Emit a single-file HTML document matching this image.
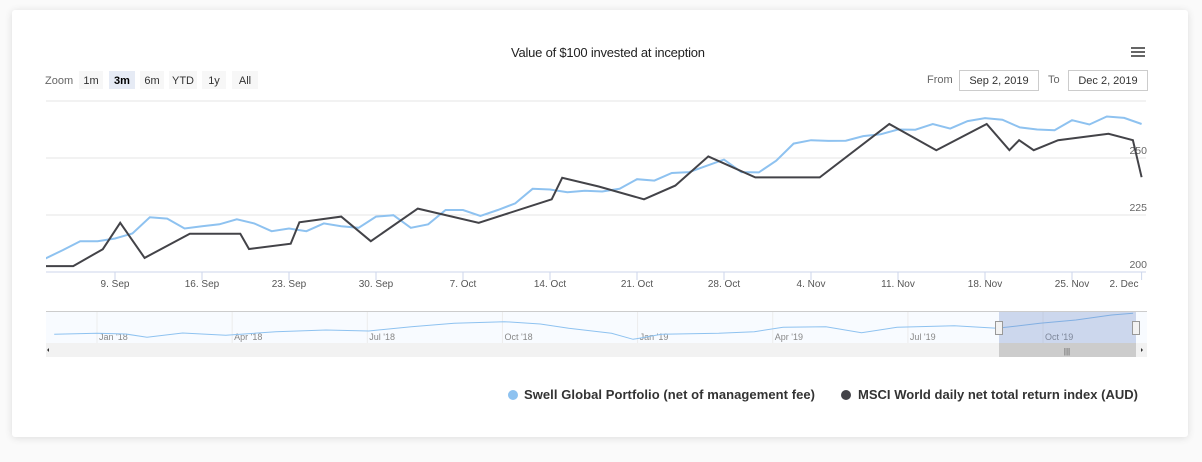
<!DOCTYPE html>
<html><head><meta charset="utf-8"><style>
body{margin:0;width:1202px;height:462px;background:#fafafa;font-family:"Liberation Sans",sans-serif;overflow:hidden;position:relative}
.card{position:absolute;left:12px;top:10px;width:1176px;height:427px;background:#fff;box-shadow:0 1px 8px rgba(0,0,0,.12);border-radius:3px}
svg{position:absolute;left:0;top:0}
text{font-family:"Liberation Sans",sans-serif}
</style></head><body>
<div class="card"></div>
<svg id="s" width="1202" height="462">
<text x="608" y="57" text-anchor="middle" font-size="13" fill="#222" textLength="194">Value of $100 invested at inception</text>
<g><rect x="1131" y="47" width="14" height="2" fill="#666"/><rect x="1131" y="51" width="14" height="2" fill="#666"/><rect x="1131" y="55" width="14" height="2" fill="#666"/></g>
<text x="45" y="84" font-size="11" fill="#666">Zoom</text>
<g font-size="11" fill="#333">
<g><rect x="79" y="71" width="24" height="18" fill="#f7f7f7"/><text x="91" y="84" text-anchor="middle">1m</text></g>
<g><rect x="109" y="71" width="26" height="18" fill="#e6ebf5"/><text x="122" y="84" text-anchor="middle" font-weight="bold" fill="#000">3m</text></g>
<g><rect x="140" y="71" width="24" height="18" fill="#f7f7f7"/><text x="152" y="84" text-anchor="middle">6m</text></g>
<g><rect x="169" y="71" width="28" height="18" fill="#f7f7f7"/><text x="183" y="84" text-anchor="middle">YTD</text></g>
<g><rect x="202" y="71" width="24" height="18" fill="#f7f7f7"/><text x="214" y="84" text-anchor="middle">1y</text></g>
<g><rect x="232" y="71" width="26" height="18" fill="#f7f7f7"/><text x="245" y="84" text-anchor="middle">All</text></g>
</g>
<text x="927" y="83" font-size="11" fill="#666">From</text>
<g><rect x="959.5" y="70.5" width="79" height="20" fill="#fff" stroke="#ccc"/><text x="999" y="84" text-anchor="middle" font-size="11" fill="#333">Sep 2, 2019</text></g>
<text x="1048" y="83" font-size="11" fill="#666">To</text>
<g><rect x="1068.5" y="70.5" width="79" height="20" fill="#fff" stroke="#ccc"/><text x="1108" y="84" text-anchor="middle" font-size="11" fill="#333">Dec 2, 2019</text></g>
<g id="main"></g>
<g id="nav"></g>
<g font-size="13" font-weight="bold" fill="#333">
<g><circle cx="513" cy="395" r="5" fill="#8ec2f0"/><text x="524" y="399" textLength="291">Swell Global Portfolio (net of management fee)</text></g>
<g><circle cx="846" cy="395" r="5" fill="#434348"/><text x="858" y="399" textLength="280">MSCI World daily net total return index (AUD)</text></g>
</g>
</svg>
<script>
const tickLabels=["9. Sep","16. Sep","23. Sep","30. Sep","7. Oct","14. Oct","21. Oct","28. Oct","4. Nov","11. Nov","18. Nov","25. Nov","2. Dec"];
const tickIdx=[5,10,15,20,25,30,35,40,45,50,55,60,64];
const yTicks=[200,225,250,275];
const swellIdx=[];for(let i=0;i<=64;i++)swellIdx.push(i);
const swellVals=[206.5,205.9,209.6,213.5,213.5,214.7,216.9,224,223.4,219.1,220.1,220.9,223.1,221.3,217.9,219.1,217.9,221.3,220.1,219.4,224.3,224.9,219.4,220.9,227.2,227.2,224.6,227.2,230.1,236.5,236.2,235,235.6,235.3,236.5,240.7,240.1,243.4,243.8,246.6,249.3,243.8,243.7,248.8,256.3,257.8,257.5,257.6,259.6,260.4,262.5,262.4,264.9,262.9,266.2,267.5,266.8,263.4,262.5,262.2,266.6,264.7,268.2,267.6,264.9];
const msciIdx=[0.8,2.6,4.3,5.3,6.7,9.3,12.2,12.7,15.1,15.6,18,19.7,22.4,25.9,30.1,30.7,32.8,35.4,37.2,39.1,41.8,45.5,49.5,52.2,55.1,56.4,56.96,57.8,59.2,62.1,63.5,64];
const msciVals=[202.6,202.6,210,221.6,206.2,216.8,216.8,210.1,212.4,221.8,224.3,213.5,227.8,221.6,231.9,241.3,237.5,231.9,237.9,250.7,241.5,241.5,264.9,253.4,264.9,253.4,257.8,253.4,257.8,260.6,257.8,241.6];
const navMonths=[-0.95,0,0.64,1.11,1.9,2.86,3.97,5.08,6.03,6.98,7.93,9.04,9.84,10.47,11.42,11.9,12.53,13.8,14.59,15.23,16.18,16.97,17.76,19.03,19.98,20.93,21.73,22.52,23.0];
const navVals=[157,160,158,148,161,154,165,170,167,180,190,195,188,175,160,142,157,160,165,178,180,162,178,183,175,190,200,215,220];
const navLabels=["Jan '18","Apr '18","Jul '18","Oct '18","Jan '19","Apr '19","Jul '19","Oct '19"];
const navLabelMonths=[0,3,6,9,12,15,18,21];
const NS='http://www.w3.org/2000/svg';
const X0=46,X1=1146,YT=101,YB=272;
const x=i=>115+(i-5)*17.4;
const y=v=>YB-(v-200)/75*(YB-YT);
const nx=m=>97+m*45.05;
const ny=v=>300+(260-v)/3;
function el(t,a,p){const e=document.createElementNS(NS,t);for(const k in a)e.setAttribute(k,a[k]);p.appendChild(e);return e;}
const main=document.getElementById('main');
const defs=el('defs',{},main);const cp=el('clipPath',{id:'c'},defs);el('rect',{x:X0,y:90,width:X1-X0,height:190},cp);
yTicks.forEach(v=>{const g=el('line',{x1:X0,x2:X1,y1:y(v),y2:y(v),stroke:v===200?'#ccd6eb':'#e6e6e6'},main);


if(v<275){const t=el('text',{x:1147,y:y(v)-4,'text-anchor':'end','font-size':10.5,fill:'#666'},main);t.textContent=v;

}});
tickLabels.forEach((l,k)=>{const xx=Math.min(x(tickIdx[k]),X1-2);el('line',{x1:xx,x2:xx,y1:YB,y2:YB+8,stroke:'#ccd6eb'},main);
const t=el('text',{x:Math.min(xx,1124),y:YB+15,'text-anchor':'middle','font-size':10,fill:'#555'},main);t.textContent=l;

});
const sp=el('path',{d:swellIdx.map((i,k)=>(k?'L':'M')+x(i).toFixed(1)+' '+y(swellVals[k]).toFixed(1)).join(''),fill:'none',stroke:'#8ec2f0','stroke-width':2,'clip-path':'url(#c)'},main);


const mp=el('path',{d:msciIdx.map((i,k)=>(k?'L':'M')+x(i).toFixed(1)+' '+y(msciVals[k]).toFixed(1)).join(''),fill:'none',stroke:'#434348','stroke-width':2,'clip-path':'url(#c)'},main);


const nav=document.getElementById('nav');
el('line',{x1:X0,x2:1147,y1:311.5,y2:311.5,stroke:'#ccc'},nav);
el('rect',{x:X0,y:312,width:1101,height:31,fill:'#f8fbff'},nav);
navLabelMonths.forEach((m,k)=>{el('line',{x1:nx(m),x2:nx(m),y1:312,y2:343,stroke:'#ececec'},nav);
const t=el('text',{x:nx(m)+2,y:340,'font-size':9,fill:'#888'},nav);t.textContent=navLabels[k];

});
const np=el('path',{d:navMonths.map((m,k)=>(k?'L':'M')+nx(m).toFixed(1)+' '+ny(navVals[k]).toFixed(1)).join(''),fill:'none',stroke:'#8ec2f0','stroke-width':1},nav);


const mask=el('rect',{x:999,y:312,width:137,height:31,fill:'rgba(102,133,194,0.3)'},nav);


[999,1136].forEach(h=>{const r=el('rect',{x:h-3.5,y:321.5,width:7,height:13,fill:'#f2f2f2',stroke:'#999'},nav);

});
const sb=el('rect',{x:X0,y:343,width:1101,height:14,fill:'#f2f2f2'},nav);


const th=el('rect',{x:999,y:343,width:137,height:14,fill:'#ccc'},nav);


el('text',{x:1067,y:354,'text-anchor':'middle','font-size':8,fill:'#555'},nav).textContent='|||';
el('path',{d:'M49 348 L49 352 L47 350Z',fill:'#333'},nav);
el('path',{d:'M1141 348 L1141 352 L1143 350Z',fill:'#333'},nav);
</script>
</body></html>
